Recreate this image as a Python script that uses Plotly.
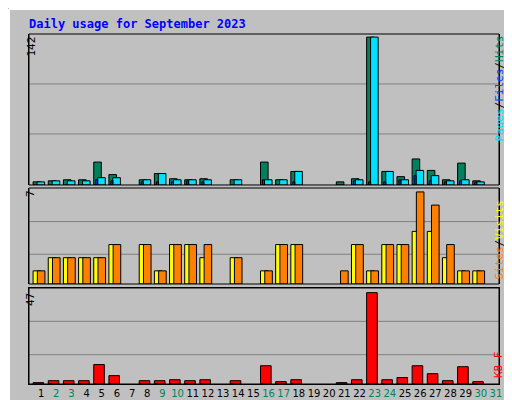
import plotly.graph_objects as go

days = list(range(1, 32))
hits  = [3,4,5,5,22,10,0,5,11,6,5,6,0,5,0,22,5,13,0,0,3,6,142,13,8,25,14,5,21,4,0]
pages = [3,4,4,4,7,7,0,5,11,5,5,5,0,5,0,5,5,13,0,0,0,5,142,13,5,14,9,4,5,3,0]
files = [0,0,0,0,5,4,0,3,3,3,4,3,0,0,0,5,0,3,0,0,0,4,3,3,5,9,4,3,4,3,0]
sites = [1,2,2,2,2,3,0,3,1,3,3,3,0,2,0,1,3,3,0,0,1,3,1,3,3,7,6,3,1,1,0]
visits= [1,2,2,2,2,3,0,3,1,3,3,2,0,2,0,1,3,3,0,0,0,3,1,3,3,4,4,2,1,1,0]
kbytes= [0.7,1.7,1.7,1.7,10,4.3,0,1.7,1.7,2.2,1.7,2.2,0,1.7,0,9.4,1.2,2.2,0,0,0.7,2.2,47,2.2,3.3,9.4,5.3,1.7,8.9,1.2,0]
weekend = {2,3,9,10,16,17,23,24,30,31}
title = "Daily usage for September 2023"

fig = go.Figure()
line = dict(color="black", width=1)
def bar(y, color, off, w, ax):
    yy = [v if v else None for v in y]
    fig.add_trace(go.Bar(x=days, y=yy, marker=dict(color=color, line=line),
                         offset=off, width=w, xaxis="x", yaxis=ax, showlegend=False))
bar(hits, "#00805C", -0.53, 0.5, "y")
bar(pages, "#00E0FF", -0.27, 0.5, "y")
bar(files, "#0040FF", -0.40, 0.13, "y")
bar(visits, "#FFFF00", -0.53, 0.5, "y2")
bar(sites, "#FF8000", -0.25, 0.5, "y2")
bar(kbytes, "#FF0000", -0.53, 0.7, "y3")

ticktext = [f'<span style="color:{"#00805C" if d in weekend else "black"}">{d}</span>' for d in days]
yax = dict(showticklabels=False, showgrid=False, zeroline=False, showline=True,
           linecolor="black", mirror=True, fixedrange=True, automargin=False)
fig.update_layout(
    width=512, height=400, margin=dict(l=21, r=21, t=26, b=24),
    paper_bgcolor="#C0C0C0", plot_bgcolor="#C0C0C0", barmode="overlay",
    font=dict(family="DejaVu Sans Mono", size=11, color="black"),
    xaxis=dict(range=[0.2, 31.2], tickvals=days, ticktext=ticktext, showgrid=False,
               zeroline=False, showline=True, linecolor="black", mirror=True, ticks="",
               tickangle=0, automargin=False,
               tickfont=dict(family="DejaVu Sans", size=10), anchor="y3"),
    yaxis=dict(domain=[0.5686, 1], range=[0, 145], **yax),
    yaxis2=dict(domain=[0.2857, 0.56], range=[0, 7.3], **yax),
    yaxis3=dict(domain=[0, 0.2743], range=[0, 49.4], **yax),
)
shapes = []
for ax, fr in [("y", [0.338, 0.669]), ("y2", [0.31, 0.65]), ("y3", [0.305, 0.653])]:
    for f in fr:
        shapes.append(dict(type="line", xref="paper", yref=f"{ax} domain", x0=0, x1=1,
                           y0=f, y1=f, line=dict(color="#808080", width=1), layer="below"))
    shapes.append(dict(type="rect", xref="paper", yref=f"{ax} domain", x0=0, x1=1, y0=0, y1=1,
                       line=dict(color="black", width=1)))
def px(x): return (x - 21) / 470
def py(y): return (376 - y) / 350
shapes += [
    dict(type="line", xref="paper", yref="paper", x0=px(1), x1=px(510), y0=py(1), y1=py(1), line=dict(color="white", width=2)),
    dict(type="line", xref="paper", yref="paper", x0=px(1), x1=px(1), y0=py(1), y1=py(398), line=dict(color="white", width=2)),
    dict(type="line", xref="paper", yref="paper", x0=px(2), x1=px(511), y0=py(398), y1=py(398), line=dict(color="#808080", width=3)),
    dict(type="line", xref="paper", yref="paper", x0=px(510), x1=px(510), y0=py(2), y1=py(398), line=dict(color="#808080", width=3)),
]
fig.update_layout(shapes=shapes)

ann = [
    dict(text=f"<b>{title}</b>", x=px(19), y=py(16), xanchor="left", yanchor="middle",
         font=dict(color="#0000FF", size=12)),
    dict(text="142", x=px(14), y=py(27), yanchor="top", textangle=-90),
    dict(text="7", x=px(14), y=py(180), yanchor="top", textangle=-90),
    dict(text="47", x=px(14), y=py(283), yanchor="top", textangle=-90),
    dict(text='<span style="color:#00E0FF">Pages</span>/<span style="color:#0040FF">Files</span>/<span style="color:#00805C">Hits</span>',
         x=px(499), y=py(136), yanchor="bottom", textangle=-90),
    dict(text='<span style="color:#FF8000">Sites</span>/<span style="color:#FFFF00">Visits</span>',
         x=px(499), y=py(274), yanchor="bottom", textangle=-90),
    dict(text='<span style="color:#FF0000">KB F</span>', x=px(499), y=py(372), yanchor="bottom", textangle=-90),
]
for a in ann:
    a.update(xref="paper", yref="paper", showarrow=False)
    a.setdefault("font", dict(size=11))
fig.update_layout(annotations=ann)
fig.write_html("out.html")
